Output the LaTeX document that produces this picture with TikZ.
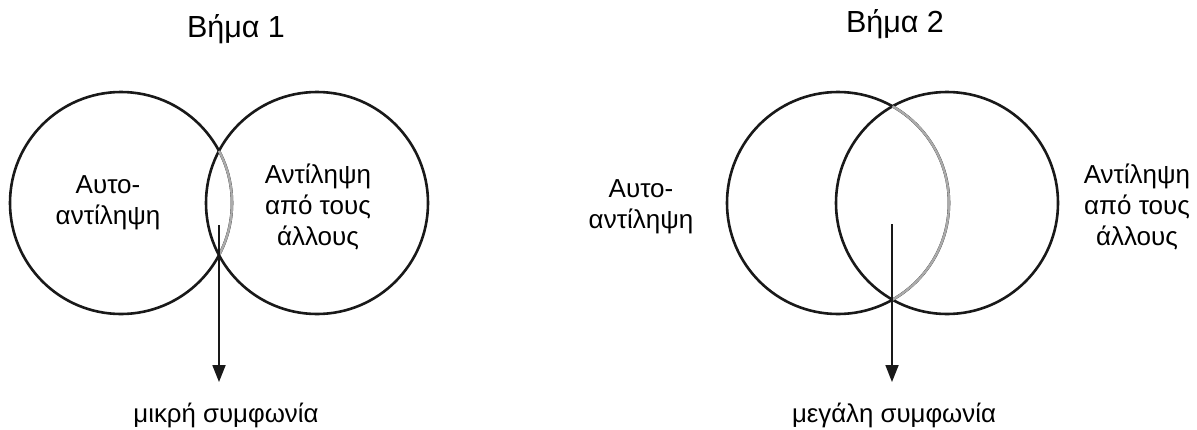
\documentclass[tikz,border=0pt]{standalone}
\usepackage{fontspec}
\setmainfont{Liberation Sans}
\usetikzlibrary{arrows.meta}

\tikzset{
  ring/.style={line width=2.6pt, draw=black!90},
  overlap arc/.style={line width=2.4pt, draw=black!33},
  caption/.style={font=\fontsize{26}{31}\selectfont, align=center, inner sep=0pt},
  heading/.style={font=\fontsize{30.5}{34}\selectfont, inner sep=0pt, anchor=base},
  result/.style={font=\fontsize{25.8}{30}\selectfont, inner sep=0pt, anchor=base},
  pointer/.style={line width=1.8pt, draw=black!90,
    -{Triangle[length=17pt,width=13pt]}},
}

\begin{document}
\begin{tikzpicture}[x=1pt,y=-1pt]
\useasboundingbox[fill=white] (0,0) rectangle (1197,429);

% ---------- step 1: small overlap ----------
\coordinate (c1) at (121,203);
\coordinate (c2) at (317,203);
\draw[ring] (c1) circle[radius=111];
\draw[ring] (c2) circle[radius=111];
\draw[overlap arc] (c1) ++(-28:111) arc[start angle=-28, end angle=28, radius=111];

\node[heading] (h1) at (236,37) {Βήμα 1};
\node[caption] (self1) at (108,203) {Αυτο-\\αντίληψη};
\node[caption] (others1) at (318,207) {Αντίληψη\\από τους\\άλλους};
\node[result] (r1) at (226,422) {μικρή συμφωνία};

\coordinate (s1) at (219,225);
\coordinate (t1) at (219,382);
\draw[pointer] (s1) -- (t1);

% ---------- step 2: large overlap ----------
\coordinate (c3) at (838,203);
\coordinate (c4) at (947,203);
\draw[ring] (c3) circle[radius=111];
\draw[ring] (c4) circle[radius=111];
\draw[overlap arc] (c3) ++(-60.6:111) arc[start angle=-60.6, end angle=60.6, radius=111];

\node[heading] (h2) at (895,32) {Βήμα 2};
\node[caption] (self2) at (641,207) {Αυτο-\\αντίληψη};
\node[caption] (others2) at (1137,207) {Αντίληψη\\από τους\\άλλους};
\node[result] (r2) at (894,422) {μεγάλη συμφωνία};

\coordinate (s2) at (892,224);
\coordinate (t2) at (892,382);
\draw[pointer] (s2) -- (t2);
\end{tikzpicture}
\end{document}
